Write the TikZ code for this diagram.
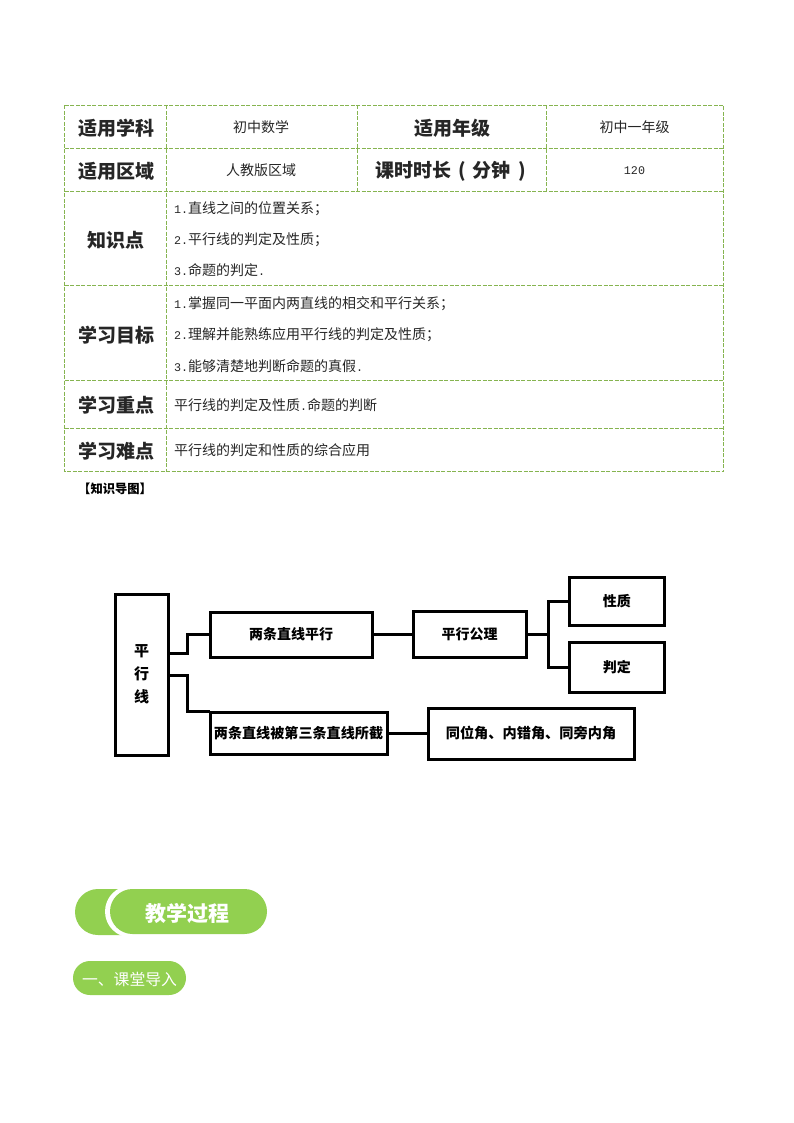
\documentclass[tikz,border=0pt]{standalone}
\usepackage{fontspec}
\setmainfont{Noto Sans CJK SC}
\newfontfamily\halffont{Liberation Mono}
\newcommand{\hw}[1]{{\halffont\fontsize{11.7}{14}\selectfont #1}}
\definecolor{tablegreen}{HTML}{86B450}
\definecolor{pillgreen}{HTML}{92D050}
\definecolor{ink}{HTML}{262626}
\tikzset{
  grid rule/.style={draw=tablegreen,line width=1.2pt,dash pattern=on 4pt off 1.5pt},
  headcell/.style={inner sep=0pt,anchor=center,text=ink,font=\fontsize{19}{19}\selectfont\bfseries},
  valcell/.style={inner sep=0pt,anchor=center,text=ink,font=\fontsize{14}{14}\selectfont},
  linecell/.style={inner sep=0pt,anchor=west,text=ink,font=\fontsize{14}{14}\selectfont},
  flowbox/.style={draw=black,line width=3pt,fill=white,inner sep=0pt,outer sep=0pt,anchor=north west,align=center,font=\fontsize{14}{14}\selectfont\bfseries},
  link/.style={draw=black,line width=3pt},
  pilltext/.style={inner sep=0pt,anchor=center,text=white,font=\bfseries}
}
\begin{document}
\begin{tikzpicture}[x=1pt,y=-1pt]
\useasboundingbox (0,0) rectangle (794,1123);
% table rules
\draw[grid rule] (64.5,105.5) rectangle (723.5,471.5);
\foreach \yy in {148.5,191.5,285.5,380.5,428.5} \draw[grid rule] (64.5,\yy) -- (723.5,\yy);
\draw[grid rule] (166.5,105.5) -- (166.5,471.5);
\draw[grid rule] (357.5,105.5) -- (357.5,191.5);
\draw[grid rule] (546.5,105.5) -- (546.5,191.5);
% table text
\node[headcell] (h1) at (116,128) {适用学科};
\node[valcell] (v1) at (261,127.5) {初中数学};
\node[headcell] (h2) at (452,128) {适用年级};
\node[valcell] (v2) at (634.5,127.5) {初中一年级};
\node[headcell] (h3) at (116,171.5) {适用区域};
\node[valcell] (v3) at (261,170.5) {人教版区域};
\node[headcell] (h4) at (450.5,171.5) {课时时长\hspace{7pt}(\hspace{7pt}分钟\hspace{7pt})};
\node[valcell] (v4) at (634.5,170.5) {\hw{120}};
\node[headcell] (h5) at (116,240.5) {知识点};
\node[linecell] (k1) at (174,208.5) {\hw{1.}直线之间的位置关系；};
\node[linecell] (k2) at (174,239.5) {\hw{2.}平行线的判定及性质；};
\node[linecell] (k3) at (174,270.5) {\hw{3.}命题的判定\hw{.}};
\node[headcell] (h6) at (116,335.5) {学习目标};
\node[linecell] (g1) at (174,303.5) {\hw{1.}掌握同一平面内两直线的相交和平行关系；};
\node[linecell] (g2) at (174,335) {\hw{2.}理解并能熟练应用平行线的判定及性质；};
\node[linecell] (g3) at (174,366) {\hw{3.}能够清楚地判断命题的真假\hw{.}};
\node[headcell] (h7) at (116,405.5) {学习重点};
\node[linecell] (p1) at (174,405.5) {平行线的判定及性质\hw{.}命题的判断};
\node[headcell] (h8) at (116,451) {学习难点};
\node[linecell] (d1) at (174,450.5) {平行线的判定和性质的综合应用};
\node[inner sep=0pt,anchor=west,text=black,font=\fontsize{12.3}{12}\selectfont\bfseries] (title) at (78,488.5) {【知识导图】};
% flow boxes
\node[flowbox,minimum width=53pt,minimum height=161pt,font=\fontsize{15}{23}\selectfont\bfseries] (root) at (115,594) {平\\行\\线};
\node[flowbox,minimum width=162pt,minimum height=45pt] (par) at (210,612) {两条直线平行};
\node[flowbox,minimum width=113pt,minimum height=46pt] (axiom) at (413,611) {平行公理};
\node[flowbox,minimum width=95.5pt,minimum height=48pt] (prop) at (569,577.5) {性质};
\node[flowbox,minimum width=95.5pt,minimum height=50pt] (judge) at (569,642) {判定};
\node[flowbox,minimum width=177pt,minimum height=42pt,font=\fontsize{14.1}{14}\selectfont\bfseries] (cut) at (210,712) {两条直线被第三条直线所截};
\node[flowbox,minimum width=206pt,minimum height=51pt,font=\fontsize{14.2}{14}\selectfont\bfseries] (angles) at (428,708) {同位角、内错角、同旁内角};
% connectors
\coordinate (rootup) at (168,653);
\coordinate (rootdown) at (168,675);
\coordinate (forkup) at (187,653);
\coordinate (forkdown) at (187,675);
\coordinate (fork) at (548,634);
\coordinate (axiomout) at (526,634);
\coordinate (axiomin) at (413,634);
\coordinate (parout) at (372,634);
\coordinate (judgein) at (569,667);
\coordinate (propin) at (569,601);
\coordinate (cutin) at (210,711.5);
\draw[link] (rootup) -- (forkup) |- (par.west);
\draw[link] (rootdown) -- (forkdown) |- (cutin);
\draw[link] (parout) -- (axiomin);
\draw[link] (axiomout) -- (fork);
\draw[link] (propin) -| (fork) |- (judgein);
\draw[link] (cut.east) -- (angles.west |- cut.east);
% pills
\fill[pillgreen] (98,889) arc[start angle=90,end angle=270,radius=23pt] -- (125,935) -- (125,889) -- cycle;
\fill[white] (131,885.5) arc[start angle=90,end angle=270,radius=26pt] -- (150,937.5) -- (150,885.5) -- cycle;
\fill[pillgreen] (132.5,889) arc[start angle=90,end angle=270,radius=22.5pt] -- (244.5,934) arc[start angle=-90,end angle=90,radius=22.5pt] -- cycle;
\node[pilltext,font=\fontsize{21}{21}\selectfont\bfseries] (proc) at (187,913) {教学过程};
\fill[pillgreen] (90,961) arc[start angle=90,end angle=270,radius=17pt] -- (169,995) arc[start angle=-90,end angle=90,radius=17pt] -- cycle;
\node[pilltext,font=\fontsize{15.8}{16}\selectfont] (intro) at (129.5,979.5) {一、课堂导入};
\end{tikzpicture}
\end{document}
